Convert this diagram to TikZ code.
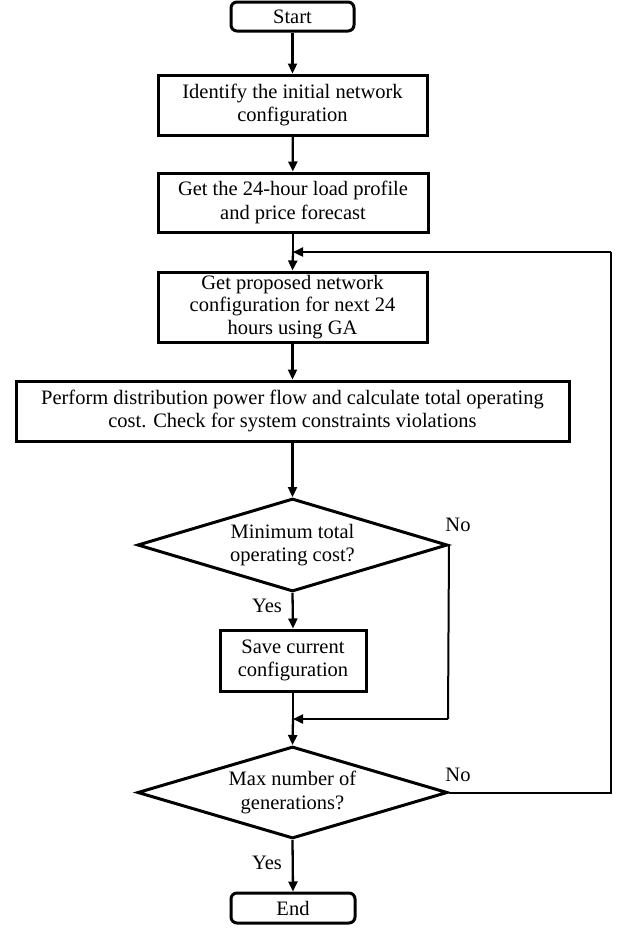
\documentclass[tikz,border=0pt]{standalone}
\usepackage{fontspec}
\setmainfont{Liberation Serif}
\usetikzlibrary{shapes.geometric,arrows.meta}
\begin{document}
\begin{tikzpicture}[x=1pt,y=-1pt,
  every node/.style={font=\fontsize{20.5}{23.5}\selectfont},
  proc/.style={draw,line width=3pt,rectangle,inner sep=0pt,align=center},
  term/.style={draw,line width=3pt,rectangle,rounded corners=6pt,inner sep=0pt,align=center},
  dec/.style={draw,line width=3pt,diamond,inner sep=0pt,align=center},
  arr/.style={line width=2.3pt,-{Triangle[length=10pt,width=9pt]}},
  ln/.style={line width=2pt},
  lbl/.style={inner sep=0pt}]
\useasboundingbox (0,0) rectangle (628,930);
\node[term,minimum width=123pt,minimum height=29pt] (start) at (292.5,16.5) {Start};
\node[proc,minimum width=269pt,minimum height=60pt] (b1) at (292.5,105) {Identify the initial network\\configuration};
\node[proc,minimum width=270pt,minimum height=59pt] (b2) at (293,202.5) {Get the 24-hour load profile\\and price forecast};
\node[proc,minimum width=269pt,minimum height=70pt,font=\fontsize{20.5}{22.5}\selectfont] (b3) at (292.5,307) {Get proposed network\\configuration for next 24\\hours using GA};
\node[proc,minimum width=553pt,minimum height=60pt] (b4) at (292.5,411) {Perform distribution power flow and calculate total operating\\cost. Check for system constraints violations};
\node[dec,minimum width=310pt,minimum height=93pt,shape aspect=3.33] (d1) at (292.5,545) {Minimum total\\operating cost?};
\node[proc,minimum width=146pt,minimum height=61pt] (b5) at (293,660.5) {Save current\\configuration};
\node[dec,minimum width=310pt,minimum height=92pt,shape aspect=3.37] (d2) at (292.5,792.5) {Max number of\\generations?};
\node[term,minimum width=124pt,minimum height=30pt] (end) at (293,908) {End};

\coordinate (loopin) at (293,252);
\coordinate (loopr) at (611,252);
\coordinate (loopb) at (611,792.5);
\coordinate (merge) at (293,719);
\coordinate (nor) at (448,719);

\draw[arr] (start) -- (b1);
\draw[arr] (b1) -- (b2);
\draw[ln] (b2.south) -- (loopin);
\draw[arr] (loopin) -- (b3.north);
\draw[arr] (b3) -- (b4);
\draw[arr] (b4.south) -- (d1.north);
\draw[arr] (d1.south) -- (b5.north);
\draw[ln] (b5.south) -- (merge);
\draw[arr] (merge) -- (d2.north);
\draw[arr] (d2.south) -- (end.north);
\draw[ln] (d1.east) -- (nor);
\draw[arr] (nor) -- (merge);
\draw[ln] (d2.east) -- (loopb) -- (loopr);
\draw[arr] (loopr) -- (loopin);

\node[lbl] (no1) at (458,525) {No};
\node[lbl] (yes1) at (267,606) {Yes};
\node[lbl] (no2) at (458,775) {No};
\node[lbl] (yes2) at (267,863) {Yes};
\end{tikzpicture}
\end{document}
